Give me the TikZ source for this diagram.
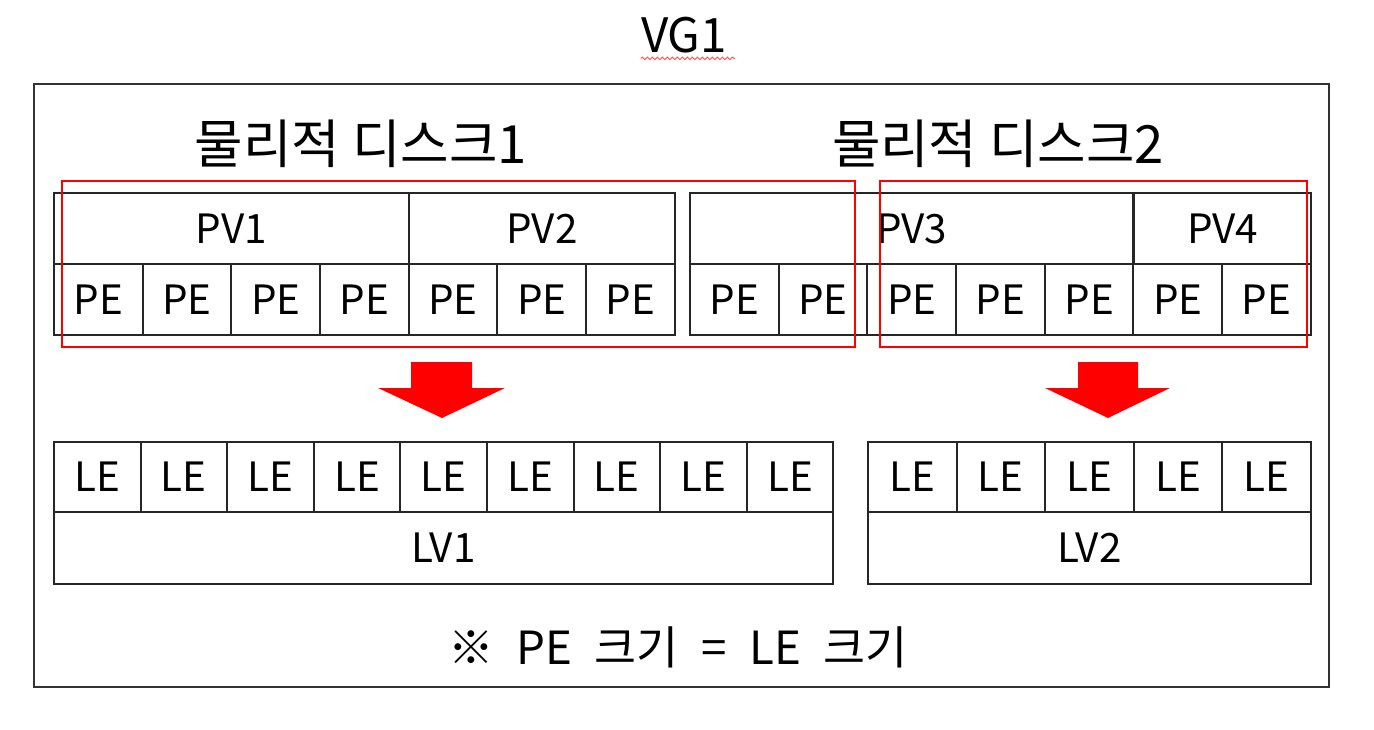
\documentclass[tikz,border=0pt]{standalone}
\usepackage{fontspec}
\newfontfamily\kr{Noto Sans CJK KR}
\usepackage{tikz}
\usetikzlibrary{decorations.pathmorphing}
\tikzstyle{cell} = [rectangle, draw=black!85, line width=1.1pt, inner sep=0pt, text centered, anchor=north west, font=\kr\fontsize{23}{28}\selectfont]
\tikzstyle{diskbox} = [rectangle, draw=red, line width=1.4pt, inner sep=0pt, anchor=north west]
\tikzstyle{title} = [inner sep=0pt, font=\kr\fontsize{30}{36}\selectfont]
\newcommand{\gap}{\hspace{0.45cm}}

\begin{document}
\begin{tikzpicture}[x=0.02cm, y=-0.02cm]

            \useasboundingbox (0,0) rectangle (1374,730);

            \node (vg) [inner sep=0pt, font=\kr\fontsize{27}{32}\selectfont] at (684,35) {VG1};
            \draw [red!70, line width=0.5pt, decorate, decoration={snake, amplitude=0.025cm, segment length=0.1cm}] (vg.south west) ++(0,5) -- ++(94,0);

            \node (vgbox) [rectangle, draw=black!80, line width=1pt, anchor=north west, minimum width=25.9cm, minimum height=12.06cm] at (33,83) {};

            \node (d1) [title] at (361,144) {물리적 디스크1};
            \node (d2) [title] at (998,144) {물리적 디스크2};

            %% PV / PE

            \node (pv1) [cell, minimum width=7.1cm, minimum height=1.42cm] at (53,192) {PV1};
            \node (pv2) [cell, minimum width=5.32cm, minimum height=1.42cm] at (408,192) {PV2};
            \node (pv3) [cell, minimum width=8.87cm, minimum height=1.42cm] at (689,192) {PV3};
            \node (pv4) [cell, minimum width=3.548cm, minimum height=1.42cm] at (1133,192) {PV4};

            \foreach \i in {0,...,6}
                \node (pea\i) [cell, minimum width=1.774cm, minimum height=1.42cm] at ({53+\i*88.7},263) {PE};
            \foreach \i in {0,...,6}
                \node (peb\i) [cell, minimum width=1.774cm, minimum height=1.42cm] at ({689+\i*88.7},263) {PE};

            \node (disk1) [diskbox, minimum width=15.86cm, minimum height=3.32cm] at (61,180) {};
            \node (disk2) [diskbox, minimum width=8.54cm, minimum height=3.32cm] at (879,180) {};

            %% arrows

            \fill [red] (411,362) -- (472,362) -- (472,388) -- (505,388) -- (442,418) -- (378,388) -- (411,388) -- cycle;
            \fill [red] (1078,362) -- (1138,362) -- (1138,388) -- (1170,388) -- (1108,418) -- (1045,388) -- (1078,388) -- cycle;

            %% LE / LV

            \foreach \i in {0,...,8}
                \node (lea\i) [cell, minimum width=1.732cm, minimum height=1.4cm] at ({53+\i*86.6},441) {LE};
            \foreach \i in {0,...,4}
                \node (leb\i) [cell, minimum width=1.772cm, minimum height=1.4cm] at ({867+\i*88.6},441) {LE};

            \node (lv1) [cell, minimum width=15.58cm, minimum height=1.44cm] at (53,511) {LV1};
            \node (lv2) [cell, minimum width=8.86cm, minimum height=1.44cm] at (867,511) {LV2};

            \node (note) [inner sep=0pt, font=\kr\fontsize{26}{32}\selectfont] at (678,647) {※\gap PE\gap 크기\gap =\gap LE\gap 크기};

        \end{tikzpicture}
\end{document}
